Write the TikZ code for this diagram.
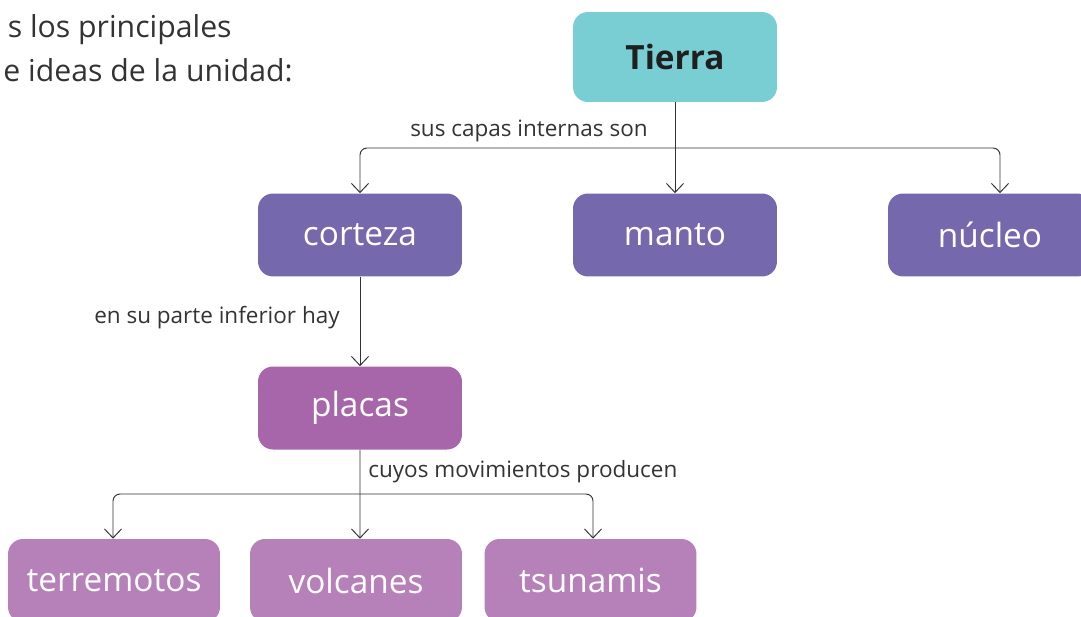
\documentclass[tikz,border=0pt]{standalone}
\usepackage{fontspec}
\setmainfont{Open Sans}
\usepackage{tikz}
\usetikzlibrary{arrows.meta}
\usepackage{xcolor}

\definecolor{tierraC}{HTML}{79CED4}
\definecolor{capaC}{HTML}{7568AD}
\definecolor{placaC}{HTML}{A866AA}
\definecolor{efectoC}{HTML}{B680B8}
\definecolor{textoC}{HTML}{333333}

\tikzset{
    caja/.style={rounded corners=0.3cm, minimum width=4.08cm, minimum height=1.66cm,
        text=white, font=\fontsize{19}{21}\selectfont, inner sep=0pt},
    enlace/.style={draw=textoC, line width=0.55pt, -{Straight Barb[length=0.18cm,width=0.34cm]}},
    rotulo/.style={text=textoC, font=\fontsize{12.8}{15}\selectfont, inner sep=0pt}
}

\begin{document}
\begin{tikzpicture}[x=0.02cm, y=-0.02cm]
            \useasboundingbox (0,0) rectangle (1081,616);
            \clip (0,0) rectangle (1081,616);

            % Encabezado
            \node[text=textoC, font=\fontsize{17.2}{21}\selectfont, inner sep=0pt, anchor=base east] (enc1) at (232,37) {s los principales};
            \node[text=textoC, font=\fontsize{17.2}{21}\selectfont, inner sep=0pt, anchor=base east] (enc2) at (293,81) {e ideas de la unidad:};

            % Nodo principal
            \node[caja, fill=tierraC, minimum height=1.8cm, text=black!88, font=\fontsize{19}{21}\selectfont\bfseries] (tierra) at (675,57) {Tierra};

            % Capas internas
            \node[caja, fill=capaC] (corteza) at (360,235) {corteza};
            \node[caja, fill=capaC] (manto) at (675,235) {manto};
            \node[caja, fill=capaC] (nucleo) at (990,235) {núcleo};

            % Placas
            \node[caja, fill=placaC] (placas) at (360,408) {placas};

            % Efectos de las placas
            \foreach \nombre/\x/\texto in {terremotos/114/terremotos, volcanes/356/volcanes, tsunamis/590.5/tsunamis}
                {
                    \node[caja, fill=efectoC, minimum width=4.24cm] (\nombre) at (\x,580.5) {\texto};
                }

            % Conectores desde Tierra
            \coordinate (busA) at (675,148);
            \draw[enlace] (tierra.south) -- (manto.north);
            \draw[enlace, rounded corners=0.14cm] (busA) -| (corteza.north);
            \draw[enlace, rounded corners=0.14cm] (busA) -| ([xshift=0.2cm]nucleo.north);
            \node[rotulo, anchor=base east] (lblA) at (648,136) {sus capas internas son};

            % Corteza a placas
            \draw[enlace] (corteza.south) -- (placas.north);
            \node[rotulo, anchor=base east] (lblB) at (340,323) {en su parte inferior hay};

            % Placas a efectos
            \coordinate (busB) at (360,494);
            \draw[enlace] (placas.south) -- ([xshift=0.08cm]volcanes.north);
            \draw[enlace, rounded corners=0.14cm] (busB) -| ([xshift=-0.02cm]terremotos.north);
            \draw[enlace, rounded corners=0.14cm] (busB) -| ([xshift=0.05cm]tsunamis.north);
            \node[rotulo, anchor=base west] (lblC) at (368,477) {cuyos movimientos producen};

        \end{tikzpicture}
\end{document}
